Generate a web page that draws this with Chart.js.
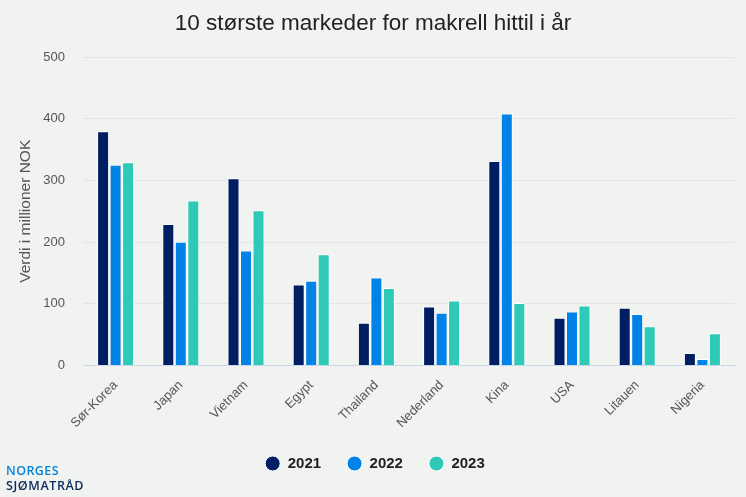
<!DOCTYPE html>
<html><head><meta charset="utf-8">
<style>
html,body{margin:0;padding:0;background:#f1f3f1;}
#wrap{position:relative;width:746px;height:497px;overflow:hidden;background:#f1f3f1;}
canvas{position:absolute;left:0;top:0;}
.logo{position:absolute;left:6px;font-family:"Open Sans","Liberation Sans",sans-serif;font-size:12.5px;font-weight:600;line-height:14px;white-space:nowrap;}
</style>
<script src="https://cdn.jsdelivr.net/npm/chart.js@4"></script>
</head><body>
<div id="wrap"><canvas id="c" width="746" height="497"></canvas>
<div class="logo" style="top:464px;color:#0a82d8;letter-spacing:.4px">NORGES</div>
<div class="logo" style="top:479px;color:#0b2a5b;letter-spacing:.6px">SJØMATRÅD</div></div>
<script>
const categories=["Sør-Korea","Japan","Vietnam","Egypt","Thailand","Nederland","Kina","USA","Litauen","Nigeria"];
const values2021=[379.5,229.5,303.5,131.5,69.5,95.5,331.5,77.5,93.5,20.5];
const values2022=[325.5,200.5,186.5,137.5,142.5,85.5,408.5,87.5,83.5,10.5];
const values2023=[329.5,267.5,251.5,180.5,125.5,105.5,101.5,97.5,63.5,52.5];
const yTicks=[0,100,200,300,400,500];
const ds=(label,data,color)=>({label,data,backgroundColor:color,borderColor:'#ffffff',borderWidth:1,
  categoryPercentage:.575,barPercentage:.96});
const shiftLegend={id:'shiftLegend',afterLayout(chart){chart.legend.left+=2;chart.legend.right+=2;}};
new Chart(document.getElementById('c'),{type:'bar',plugins:[shiftLegend],
 data:{labels:categories,datasets:[ds('2021',values2021,'#001f63'),ds('2022',values2022,'#0082e6'),ds('2023',values2023,'#2ec9b7')]},
 options:{responsive:false,animation:false,devicePixelRatio:1,
  layout:{padding:{left:11,right:11,top:0,bottom:16}},
  plugins:{
   title:{display:true,text:'10 største markeder for makrell hittil i år',color:'#222222',
     font:{family:'"Liberation Sans"',size:22.5,weight:'normal'},padding:{top:10,bottom:20}},
   legend:{position:'bottom',labels:{usePointStyle:true,pointStyle:'circle',boxWidth:15,boxHeight:10.6,padding:26,color:'#222222',
     font:{family:'"Liberation Sans"',size:15,weight:'bold'}}},
   tooltip:{enabled:false}},
  scales:{
   x:{grid:{display:false},border:{color:'#ccd6eb',width:1},
     afterFit(s){s.paddingLeft=0;s.paddingRight=0;s.height-=5;},
     ticks:{color:'#555555',font:{family:'"Liberation Sans"',size:13},maxRotation:45,minRotation:45,autoSkip:false,padding:4}},
   y:{min:0,max:500,afterBuildTicks(a){a.ticks=yTicks.map(v=>({value:v}));},
     afterFit(s){s.width=72;},
     grid:{color:'#e2e5e2',drawTicks:false},border:{display:false},
     title:{display:true,text:'Verdi i millioner NOK',color:'#555555',font:{family:'"Liberation Sans"',size:15.5,weight:'normal'},padding:{top:5,bottom:0}},
     ticks:{color:'#555555',font:{family:'"Liberation Sans"',size:13},padding:18}}
  }}});
</script></body></html>
